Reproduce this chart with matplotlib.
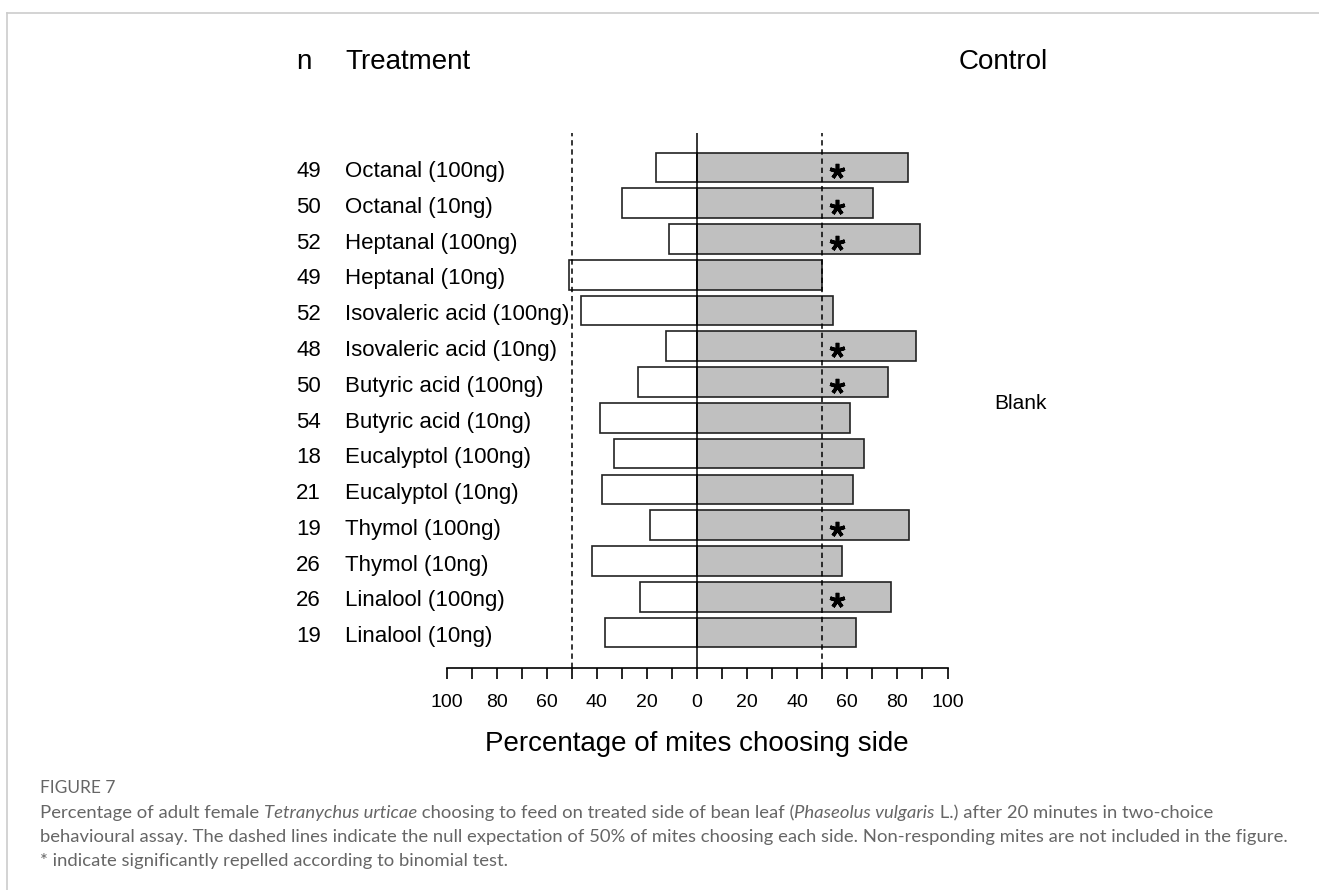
import matplotlib
matplotlib.use("Agg")
import matplotlib.pyplot as plt
import matplotlib.ticker as ticker
from matplotlib.lines import Line2D

plt.rcParams['font.family'] = ['Liberation Sans', 'DejaVu Sans']

# data (percent of mites on each side)
n_mites = [49, 50, 52, 49, 52, 48, 50, 54, 18, 21, 19, 26, 26, 19]
treatments = ["Octanal (100ng)", "Octanal (10ng)", "Heptanal (100ng)", "Heptanal (10ng)",
              "Isovaleric acid (100ng)", "Isovaleric acid (10ng)", "Butyric acid (100ng)",
              "Butyric acid (10ng)", "Eucalyptol (100ng)", "Eucalyptol (10ng)",
              "Thymol (100ng)", "Thymol (10ng)", "Linalool (100ng)", "Linalool (10ng)"]
treated_pct = [16.3, 30.0, 11.3, 50.9, 46.5, 12.4, 23.6, 38.8, 33.2, 37.8, 18.6, 42.0, 22.8, 36.8]
control_pct = [84.2, 70.2, 88.9, 49.8, 54.3, 87.6, 76.2, 61.2, 66.7, 62.2, 84.5, 58.0, 77.3, 63.5]
significant = [True, True, True, False, False, True, True, False, False, False, True, False, True, False]
tick_values = list(range(-100, 101, 20))

W, H = 1319, 890
fig = plt.figure(figsize=(W / 100, H / 100), dpi=100)
fig.patch.set_facecolor("white")

# axes placed so that -100..100 spans the drawn scale
x0, x1 = 446.5, 947.5
ytop, ybot = 133, 668
ax = fig.add_axes([x0 / W, 1 - ybot / H, (x1 - x0) / W, (ybot - ytop) / H])
rows = list(range(len(treatments)))

ax.barh(rows, [-v for v in treated_pct], height=0.83, color="white", edgecolor="#222222", linewidth=1.2)
ax.barh(rows, control_pct, height=0.83, color="#c0c0c0", edgecolor="#222222", linewidth=1.2)

ax.set_xlim(-100, 100)
ax.set_ylim(13.99, -0.96)

ax.axvline(0, color="black", linewidth=1.1)
for xv in (-50, 50):
    ax.axvline(xv, color="black", linewidth=1.1, linestyle=(0, (3.5, 2.5)))

sig_rows = [i for i, s in enumerate(significant) if s]
ax.plot([56] * len(sig_rows), [i + 0.1 for i in sig_rows], linestyle="none",
        marker=(5, 2, 0), markersize=11, markeredgewidth=2.6, color="black")

for s in ("top", "left", "right"):
    ax.spines[s].set_visible(False)
ax.spines["bottom"].set_linewidth(1.2)
ax.set_yticks([])
ax.xaxis.set_major_locator(ticker.FixedLocator(tick_values))
ax.xaxis.set_minor_locator(ticker.MultipleLocator(10))
ax.xaxis.set_major_formatter(ticker.FuncFormatter(lambda v, p: f"{abs(int(round(v)))}"))
ax.tick_params(axis="x", which="both", direction="out", length=8, width=1.2)
ax.tick_params(axis="x", which="major", labelsize=14, pad=11)

# row labels
tr = ax.get_yaxis_transform()
for i in rows:
    ax.text((308.5 - x0) / (x1 - x0), i + 0.27, str(n_mites[i]), transform=tr,
            ha="center", va="baseline", fontsize=16)
    ax.text((345 - x0) / (x1 - x0), i + 0.27, treatments[i], transform=tr,
            ha="left", va="baseline", fontsize=16)

# headers
fig.text(304 / W, 1 - 69 / H, "n", ha="center", va="baseline", fontsize=20)
fig.text(345 / W, 1 - 69 / H, "Treatment", ha="left", va="baseline", fontsize=20)
fig.text(1003 / W, 1 - 69 / H, "Control", ha="center", va="baseline", fontsize=20)
fig.text(1021 / W, 1 - 409 / H, "Blank", ha="center", va="baseline", fontsize=15)
fig.text(696.5 / W, 1 - 751 / H, "Percentage of mites choosing side", ha="center", va="baseline", fontsize=20)

# panel frame
fig.add_artist(Line2D([7 / W, 1], [1 - 13 / H, 1 - 13 / H], color="#cccccc", linewidth=1.2))
fig.add_artist(Line2D([7 / W, 7 / W], [0, 1 - 13 / H], color="#cccccc", linewidth=1.2))

# caption, pieces with italics placed one after another
cap_color = "#666666"
cap_font = ["Lato", "DejaVu Sans"]
cap_size = 13.3
fig.text(40 / W, 1 - 788 / H, "FIGURE 7", ha="left", va="center", fontsize=12.5,
         color=cap_color, family=cap_font)

caption_lines = [
    [("Percentage of adult female ", "normal"), ("Tetranychus urticae", "italic"),
     (" choosing to feed on treated side of bean leaf (", "normal"), ("Phaseolus vulgaris", "italic"),
     (" L.) after 20 minutes in two-choice", "normal")],
    [("behavioural assay. The dashed lines indicate the null expectation of 50% of mites choosing each side. "
      "Non-responding mites are not included in the figure.", "normal")],
    [("* indicate significantly repelled according to binomial test.", "normal")],
]
line_y = [813, 837, 861]
renderer = fig.canvas.get_renderer()
for pieces, yp in zip(caption_lines, line_y):
    xp = 40
    for txt, style in pieces:
        t = fig.text(xp / W, 1 - yp / H, txt, ha="left", va="center", fontsize=cap_size,
                     color=cap_color, family=cap_font, style=style)
        bb = t.get_window_extent(renderer=renderer)
        xp = bb.x1

fig.savefig("out.png", dpi=100, facecolor="white")
